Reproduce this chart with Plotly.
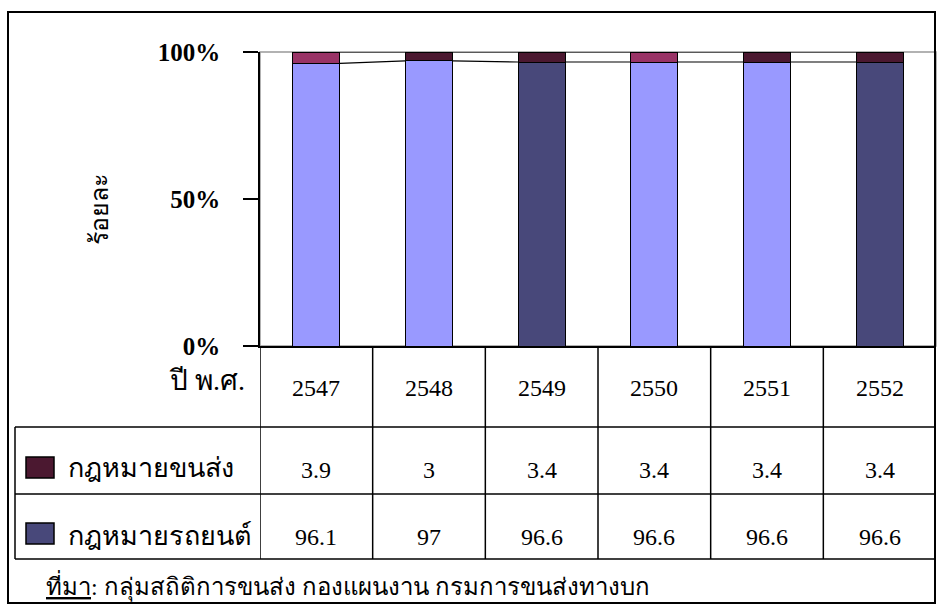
import plotly.graph_objects as go

years = ["2547", "2548", "2549", "2550", "2551", "2552"]
transport_law = [3.9, 3, 3.4, 3.4, 3.4, 3.4]          # กฎหมายขนส่ง (top)
vehicle_law = [96.1, 97, 96.6, 96.6, 96.6, 96.6]      # กฎหมายรถยนต์ (bottom)
top_colors = ["#993366", "#4B1830", "#4B1830", "#993366", "#4B1830", "#4B1830"]
bottom_colors = ["#9999FF", "#9999FF", "#48487A", "#9999FF", "#9999FF", "#48487A"]
series_names = ["กฎหมายขนส่ง", "กฎหมายรถยนต์"]
legend_colors = ["#4B1830", "#48487A"]
y_ticks = [0, 50, 100]
y_tick_text = ["0%", "50%", "100%"]

W, H = 941, 612
L, R, T, B = 260, 936, 52, 346
BAR_W = 0.42
FONT = "Liberation Serif, Times New Roman, serif"


def px(p):
    return (p - L) / (R - L)


def py(p):
    return (B - p) / (B - T)


xs = list(range(len(years)))
fig = go.Figure()
fig.add_bar(x=xs, y=vehicle_law, width=BAR_W, marker=dict(color=bottom_colors, line=dict(color="black", width=1)),
            name=series_names[1], showlegend=False, hoverinfo="y")
fig.add_bar(x=xs, y=transport_law, width=BAR_W, marker=dict(color=top_colors, line=dict(color="black", width=1)),
            name=series_names[0], showlegend=False, hoverinfo="y")

# Excel-style series lines joining the stacked segments
tops = [a + b for a, b in zip(vehicle_law, transport_law)]
for series in (vehicle_law, tops):
    for i in range(len(xs) - 1):
        fig.add_scatter(x=[xs[i] + BAR_W / 2, xs[i + 1] - BAR_W / 2], y=[series[i], series[i + 1]],
                        mode="lines", line=dict(color="black", width=1.2), showlegend=False, hoverinfo="skip")

shapes = []
# plot area border (grey)
shapes.append(dict(type="rect", xref="paper", yref="paper", x0=0, x1=1, y0=0, y1=1,
                   line=dict(color="#999999", width=1.5), layer="below"))
# outer frame
shapes.append(dict(type="rect", xref="paper", yref="paper", x0=px(8), x1=px(935), y0=py(603), y1=py(12),
                   line=dict(color="black", width=2)))
# table vertical column lines
for i in range(len(years) + 1):
    shapes.append(dict(type="line", xref="x", yref="paper", x0=i - 0.5, x1=i - 0.5, y0=py(346), y1=py(559),
                       line=dict(color="black", width=1.5)))
# table horizontal lines
for yy in (427, 494, 559):
    shapes.append(dict(type="line", xref="paper", yref="paper", x0=px(15), x1=px(935), y0=py(yy), y1=py(yy),
                       line=dict(color="black", width=1.5)))
shapes.append(dict(type="line", xref="paper", yref="paper", x0=px(15), x1=px(15), y0=py(427), y1=py(559),
                   line=dict(color="black", width=1.5)))
# legend keys
for (y0, y1), c in zip(((457, 478), (523, 544)), legend_colors):
    shapes.append(dict(type="rect", xref="paper", yref="paper", x0=px(26), x1=px(54), y0=py(y1), y1=py(y0),
                       fillcolor=c, line=dict(color="black", width=1.5)))

ann = []
tf = dict(family=FONT, size=24, color="black")
for i, yr in enumerate(years):
    for txt, yy in ((yr, 388), (str(transport_law[i]), 470), (str(vehicle_law[i]), 537)):
        ann.append(dict(x=i, y=py(yy), xref="x", yref="paper", text=txt, showarrow=False,
                        xanchor="center", yanchor="middle", font=tf))
for name, yy in zip(series_names, (468, 535)):
    ann.append(dict(x=px(66), y=py(yy), xref="paper", yref="paper", text=name, showarrow=False,
                    xanchor="left", yanchor="middle", font=dict(family=FONT, size=27, color="black")))
ann.append(dict(x=px(247), y=py(380), xref="paper", yref="paper", text="ปี พ.ศ.", showarrow=False,
                xanchor="right", yanchor="middle", font=dict(family=FONT, size=28, color="black")))
ann.append(dict(x=px(100), y=py(210), xref="paper", yref="paper", text="ร้อยละ", showarrow=False,
                textangle=-90, xanchor="center", yanchor="middle", font=dict(family=FONT, size=25, color="black")))
ann.append(dict(x=px(44), y=py(586), xref="paper", yref="paper",
                text="<u>ที่มา</u>: กลุ่มสถิติการขนส่ง กองแผนงาน กรมการขนส่งทางบก", showarrow=False,
                xanchor="left", yanchor="middle", font=dict(family=FONT, size=24, color="black")))

fig.update_layout(
    width=W, height=H, barmode="stack",
    margin=dict(l=L, r=W - R, t=T, b=H - B),
    paper_bgcolor="white", plot_bgcolor="white",
    shapes=shapes, annotations=ann,
    xaxis=dict(range=[-0.5, len(years) - 0.5], showticklabels=False, showgrid=False, zeroline=False,
               showline=True, linecolor="black", linewidth=1.5, ticks=""),
    yaxis=dict(range=[0, 100], tickvals=y_ticks, ticktext=y_tick_text, showgrid=False, zeroline=False,
               showline=True, linecolor="black", linewidth=1.5, ticks="outside", ticklen=15,
               tickcolor="black", tickwidth=1.5, ticklabelstandoff=18,
               tickfont=dict(family=FONT, size=25, color="black", weight="bold")),
    showlegend=False,
)
fig.write_html("out.html", config={"displayModeBar": False},
               post_script="document.body.style.margin='0';document.body.style.overflow='hidden';")
